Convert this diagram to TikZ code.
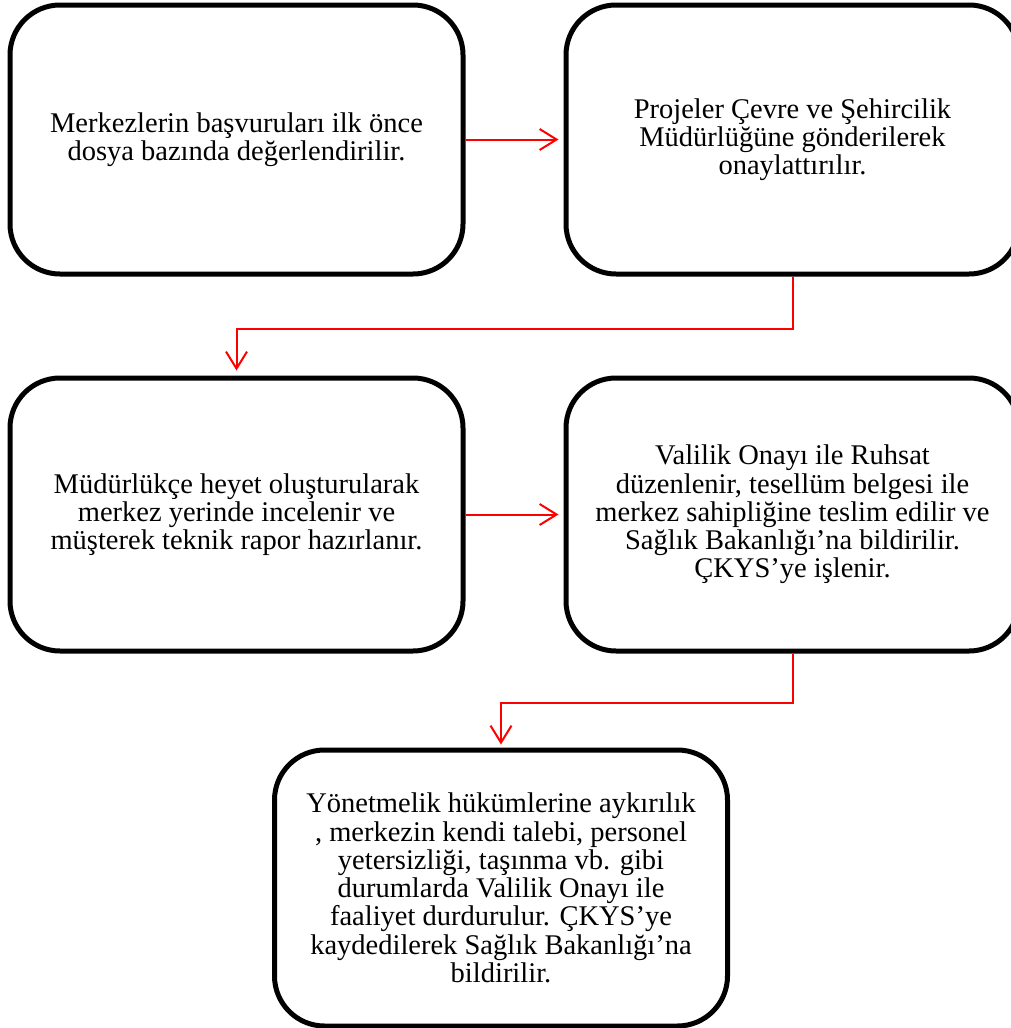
\documentclass[tikz,border=0pt]{standalone}
\usepackage{fontspec}
\setmainfont{Liberation Serif}
\usetikzlibrary{arrows.meta}
\begin{document}
\begin{tikzpicture}[x=1pt,y=-1pt,
  stage/.style={draw=black, line width=5pt, rounded corners=50pt,
    minimum width=453pt, inner sep=0pt, align=center,
    font=\fontsize{28.5}{28.3}\selectfont},
  flow/.style={draw=red, line width=2pt,
    -{Straight Barb[length=17pt,width=21pt,line width=2pt]}}]
  \useasboundingbox (0,0) rectangle (1011,1028);
  \clip (0,0) rectangle (1011,1028);
  \node[stage, minimum height=269pt] (b1) at (236.5,139.5)
    {Merkezlerin başvuruları ilk önce\\dosya bazında değerlendirilir.};
  \node[stage, minimum height=269pt] (b2) at (792.5,139.5)
    {Projeler Çevre ve Şehircilik\\Müdürlüğüne gönderilerek\\onaylattırılır.};
  \node[stage, minimum height=273pt] (b3) at (236.5,514.5)
    {Müdürlükçe heyet oluşturularak\\merkez yerinde incelenir ve\\müşterek teknik rapor hazırlanır.};
  \node[stage, minimum height=273pt] (b4) at (792.5,514.5)
    {Valilik Onayı ile Ruhsat\\düzenlenir, tesellüm belgesi ile\\merkez sahipliğine teslim edilir ve\\Sağlık Bakanlığı’na bildirilir.\\ÇKYS’ye işlenir.};
  \node[stage, minimum height=276pt] (b5) at (501,888)
    {Yönetmelik hükümlerine aykırılık\\, merkezin kendi talebi, personel\\yetersizliği, taşınma vb. gibi\\durumlarda Valilik Onayı ile\\faaliyet durdurulur. ÇKYS’ye\\kaydedilerek Sağlık Bakanlığı’na\\bildirilir.};
  \draw[flow, shorten >=5pt] (b1.east) -- (b2.west);
  \draw[flow, shorten >=5pt] (b2.south) -- ++(0,52) -| (b3.north);
  \draw[flow, shorten >=5pt] (b3.east) -- (b4.west);
  \draw[flow, shorten >=3pt] (b4.south) -- ++(0,49) -| (b5.north);
\end{tikzpicture}
\end{document}
